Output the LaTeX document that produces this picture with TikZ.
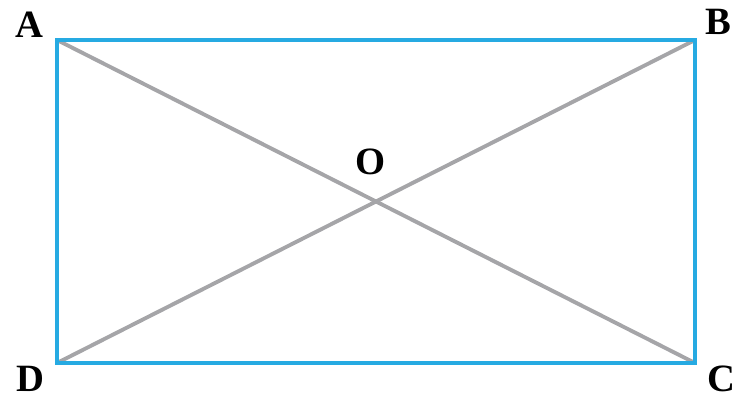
\documentclass[tikz,border=0pt]{standalone}
\usepackage{fontspec}
\setmainfont{Liberation Serif}
\definecolor{sideblue}{RGB}{38,170,226}
\definecolor{diaggray}{RGB}{165,165,168}
\tikzstyle{pt}    = [inner sep=0pt, font=\fontsize{22}{24}\selectfont\bfseries]
\tikzstyle{side}  = [line width=2.8pt, draw=sideblue, line join=miter]
\tikzstyle{diag}  = [line width=2.2pt, draw=diaggray]

\begin{document}
\begin{tikzpicture}[x=0.02cm, y=-0.02cm]
      \useasboundingbox (0,0) rectangle (736,398);

      \coordinate (A) at (57,40);
      \coordinate (B) at (695,40);
      \coordinate (C) at (695,363);
      \coordinate (D) at (57,363);
      \coordinate (O) at (376,202);

      \node (lA) [pt] at (29,25)  {A};
      \node (lB) [pt] at (718,22) {B};
      \node (lC) [pt] at (721,379) {C};
      \node (lD) [pt] at (30,379) {D};
      \node (lO) [pt] at (371,162) {O};

      \draw [diag] (A) -- (C);
      \draw [diag] (B) -- (D);

      \draw [side] (A) -- (B) -- (C) -- (D) -- cycle;

    \end{tikzpicture}
\end{document}
